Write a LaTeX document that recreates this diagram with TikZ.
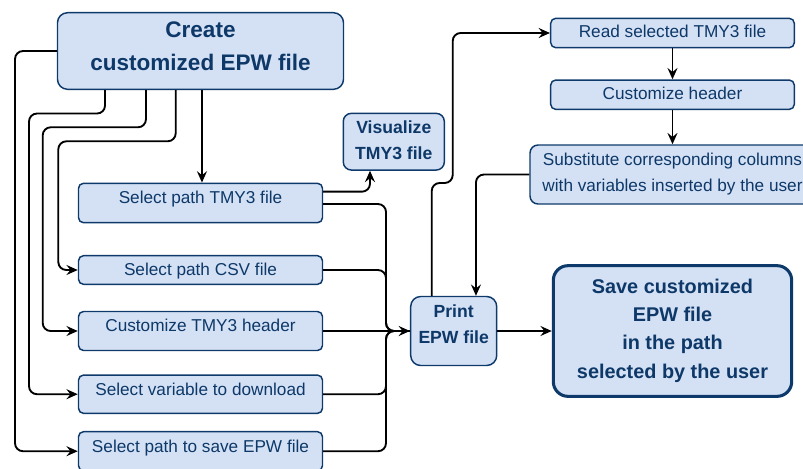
\documentclass[tikz,border=0pt]{standalone}
\usepackage{fontspec}
\setmainfont{Liberation Sans}
\usetikzlibrary{arrows.meta,calc}
\definecolor{boxfill}{HTML}{D4E1F5}
\definecolor{boxline}{HTML}{0E3A6B}
\definecolor{boxtext}{HTML}{0D3868}
\newcommand\tx[2]{\raisebox{#1}[\height][\depth]{\begin{tabular}{@{}c@{}}#2\end{tabular}}}
\begin{document}
\begin{tikzpicture}[x=0.75pt,y=-0.75pt,
  box/.style={draw=boxline, fill=boxfill, line width=1.1pt, text=boxtext, inner sep=0pt,
    rounded corners=3.75pt, font=\fontsize{12.9}{15.5}\selectfont},
  bbox/.style={box, font=\fontsize{13.2}{19.5}\selectfont\bfseries, rounded corners=6pt},
  link/.style={draw=black, line width=1.4pt, rounded corners=6pt},
  arr/.style={link, -{Stealth[length=8.5pt,width=7.5pt,inset=3pt]}},
]
\useasboundingbox (0,0) rectangle (803,468);

\node[box, minimum width=214.5pt, minimum height=57.45pt, rounded corners=7.5pt,
  font=\fontsize{16.9}{25}\selectfont\bfseries] (create) at (200.5,51) {\tx{2.6pt}{Create\\customized EPW file}};
\node[box, minimum width=183pt, minimum height=29.55pt] (tmy) at (200.5,203) {\tx{2.9pt}{Select path TMY3 file}};
\node[box, minimum width=183pt, minimum height=21.45pt] (csv) at (200.5,270) {\tx{-0.8pt}{Select path CSV file}};
\node[box, minimum width=183pt, minimum height=29.25pt] (custom) at (200.5,331) {\tx{2.9pt}{Customize TMY3 header}};
\node[box, minimum width=183pt, minimum height=28.7pt] (selvar) at (200.5,394.2) {\tx{2.4pt}{Select variable to download}};
\node[box, minimum width=183pt, minimum height=29.25pt] (savep) at (200.5,451.2) {\tx{2.5pt}{Select path to save EPW file}};
\node[bbox, minimum width=75.75pt, minimum height=42.5pt] (vis) at (393.8,141.7) {\tx{0.5pt}{Visualize\\TMY3 file}};
\node[bbox, minimum width=64.5pt, minimum height=51.75pt, rounded corners=7.5pt,
  font=\fontsize{13.2}{20}\selectfont\bfseries] (print) at (453.7,331) {\tx{4.5pt}{Print\\EPW file}};
\node[box, draw=boxline, line width=2.3pt, minimum width=178.8pt, minimum height=98pt, rounded corners=11pt,
  font=\fontsize{14.9}{21.3}\selectfont\bfseries] (save) at (672.5,331) {\tx{0.8pt}{Save customized\\EPW file\\in the path\\selected by the user}};
\node[box, minimum width=182.7pt, minimum height=22pt] (read) at (672.5,33) {\tx{0pt}{Read selected TMY3 file}};
\node[box, minimum width=182.7pt, minimum height=22pt] (custh) at (672.5,94.7) {\tx{-0.5pt}{Customize header}};
\node[box, minimum width=213.75pt, minimum height=44.25pt, rounded corners=6pt,
  font=\fontsize{12.9}{19.5}\selectfont] (sub) at (672.5,174.5) {\tx{0.6pt}{Substitute corresponding columns\\with variables inserted by the user}};

% from Create
\draw[arr] ([xshift=1.1pt]create.south) -- ([xshift=1.1pt]tmy.north);
\draw[arr] (create.west) -| (15,451.2) -- (savep.west);
\draw[arr] ([xshift=-71.6pt]create.south) |- (29,113.5) |- (selvar.west);
\draw[arr] ([xshift=-40.9pt]create.south) |- (42.7,127.3) |- (custom.west);
\draw[arr] ([xshift=-18.6pt]create.south) |- (58.3,141.3) |- (csv.west);

% to Visualize
\draw[arr] ([yshift=8.5pt]tmy.east) -| ([xshift=-17.85pt]vis.south);

% merge into Print
\draw[link] ([yshift=-0.75pt]tmy.east) -| (386,331) -- (print.west);
\draw[link] (csv.east) -| (386,331) -- (print.west);
\draw[link] (selvar.east) -| (386,331) -- (print.west);
\draw[link] (savep.east) -| (386,331) -- (print.west);
\draw[arr] (custom.east) -- (print.west);

% right column
\draw[arr] ([xshift=-16.5pt]print.north) |- (452.7,183) |- (read.west);
\draw[arr] (read.south) -- (custh.north);
\draw[arr] (custh.south) -- (sub.north);
\draw[arr] (sub.west) -| ([xshift=16.7pt]print.north);
\draw[arr] (print.east) -- (save.west);
\end{tikzpicture}
\end{document}
